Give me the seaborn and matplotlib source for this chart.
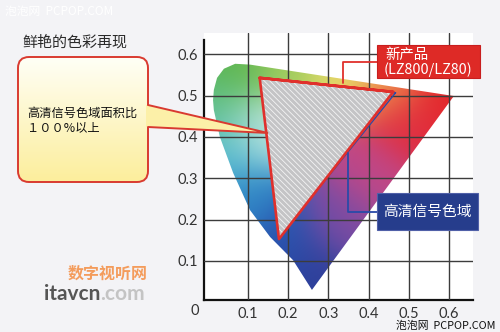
import numpy as np
import matplotlib
matplotlib.use("Agg")
import matplotlib.pyplot as plt
from matplotlib.patches import Polygon, FancyBboxPatch
from matplotlib.colors import to_rgb
import seaborn as sns

# Spectral locus outline in the u'v' plane
locus_u = [0.259, 0.212, 0.155, 0.105, 0.063, 0.030, 0.015, 0.013, 0.015,
           0.023, 0.040, 0.068, 0.105, 0.612]
locus_v = [0.030, 0.102, 0.158, 0.223, 0.313, 0.400, 0.465, 0.489, 0.514,
           0.543, 0.565, 0.577, 0.575, 0.499]

# New panel gamut (LZ800/LZ80) and HD signal gamut
new_u = [0.129, 0.461, 0.177]
new_v = [0.543, 0.509, 0.153]
hd_u = [0.130, 0.467, 0.178]
hd_v = [0.540, 0.507, 0.157]

tick_values = [0.1, 0.2, 0.3, 0.4, 0.5, 0.6]
tick_labels = ["0.1", "0.2", "0.3", "0.4", "0.5", "0.6"]

title = "鲜艳的色彩再现"
callout_lines = ["高清信号色域面积比", "１００%以上"]
new_label = ["新产品", "(LZ800/LZ80)"]
hd_label = "高清信号色域"

# Colour anchors used to shade the locus
hue_stops = [
    (0.07, 0.56, "#5db54a"), (0.20, 0.575, "#a0cc5c"), (0.33, 0.555, "#e8dc6c"),
    (0.45, 0.535, "#ee8c4c"), (0.60, 0.50, "#e4262a"), (0.50, 0.43, "#e02c40"),
    (0.41, 0.31, "#c04888"), (0.33, 0.20, "#7a4ca4"), (0.26, 0.06, "#2e3f9a"),
    (0.19, 0.15, "#2852ae"), (0.10, 0.25, "#2f84c6"), (0.05, 0.36, "#4cb8d0"),
    (0.12, 0.42, "#cdece6"), (0.03, 0.47, "#5cbf8a"),
]

sns.set_theme(style="white")
plt.rcParams["font.family"] = ["Noto Sans CJK SC", "DejaVu Sans"]
plt.rcParams["hatch.linewidth"] = 0.6

W, H = 500, 332
BG = "#f3f3f6"
fig = plt.figure(figsize=(W / 100, H / 100), dpi=100, facecolor=BG)

# main chromaticity axes
L, R, B, T = 204, 473, 300, 33
ax = fig.add_axes([L / W, 1 - B / H, (R - L) / W, (B - T) / H])
xmin = -0.0095
xmax = xmin + (R - L) / 402.0
ymin = 0.0056
ymax = ymin + (B - T) / 413.4
ax.set_facecolor("white")

# shaded locus
nu, nv = 400, 400
U, V = np.meshgrid(np.linspace(xmin, xmax, nu), np.linspace(ymin, ymax, nv))
acc = np.zeros((nv, nu, 3))
wsum = np.zeros((nv, nu))
sig = 0.06
for su, sv, c in hue_stops:
    w = np.exp(-((U - su) ** 2 + (V - sv) ** 2) / (2 * sig ** 2)) + 1e-12
    acc += w[..., None] * np.array(to_rgb(c))
    wsum += w
rgb = acc / wsum[..., None]
im = ax.imshow(rgb, extent=[xmin, xmax, ymin, ymax], origin="lower",
               aspect="auto", zorder=1, interpolation="bilinear")
locus_patch = Polygon(np.column_stack([locus_u, locus_v]), closed=True,
                      transform=ax.transData, facecolor="none", edgecolor="none")
ax.add_patch(locus_patch)
im.set_clip_path(locus_patch)

# HD signal gamut outline, then new gamut fill and outline
sns.lineplot(x=hd_u + hd_u[:2], y=hd_v + hd_v[:2], sort=False, estimator=None,
             color="#2a4aa8", linewidth=1.0, ax=ax, zorder=3)
ax.fill(new_u, new_v, facecolor="#c4c4c6", edgecolor="#f4f4f4",
        hatch="\\\\\\\\\\\\", linewidth=0, zorder=3.2)
sns.lineplot(x=new_u + new_u[:2], y=new_v + new_v[:2], sort=False, estimator=None,
             color="#e0302c", linewidth=1.9, ax=ax, zorder=3.5)

ax.set_xlim(xmin, xmax)
ax.set_ylim(ymin, ymax)
ax.set_xticks(tick_values)
ax.set_xticklabels(tick_labels)
ax.set_yticks(tick_values)
ax.set_yticklabels(tick_labels)
ax.set_xlabel("")
ax.set_ylabel("")
ax.set_axisbelow(False)
ax.grid(True, color="#3c3c3c", linewidth=1.0)
for s in ["top", "right"]:
    ax.spines[s].set_visible(False)
for s in ["left", "bottom"]:
    ax.spines[s].set_visible(True)
    ax.spines[s].set_color("#111111")
    ax.spines[s].set_linewidth(1.6)
ax.spines["left"].set_bounds(ymin, 0.634)
ax.tick_params(axis="both", length=0, colors="#333333", labelsize=10.5)
ax.tick_params(axis="x", pad=5)
ax.tick_params(axis="y", pad=4)
for lab in ax.get_xticklabels() + ax.get_yticklabels():
    lab.set_fontfamily(["Lato", "DejaVu Sans"])

# overlay in pixel coordinates for labels and callouts
ov = fig.add_axes([0, 0, 1, 1])
ov.set_xlim(0, W)
ov.set_ylim(H, 0)
ov.axis("off")
ov.patch.set_alpha(0)
ov.set_zorder(5)

ov.text(195, 311, "0", ha="center", va="center", fontsize=10.5,
        color="#333333", family=["Lato", "DejaVu Sans"])

ov.text(22, 42, title, ha="left", va="center", fontsize=10.8, color="#2a2a2a",
        fontweight="medium")

# yellow callout box
bx, by, bw, bh = 18, 57, 130, 125
box = FancyBboxPatch((bx, by), bw, bh, boxstyle="round,pad=0,rounding_size=11",
                     facecolor="none", edgecolor="#d93a30", linewidth=1.4, zorder=3)
ov.add_patch(box)
grad = np.linspace(0, 1, 100)[:, None, None]
top_c = np.array(to_rgb("#fffff6"))
bot_c = np.array(to_rgb("#fcee9c"))
gimg = (1 - grad) * top_c + grad * bot_c
gi = ov.imshow(gimg, extent=(bx, bx + bw, by + bh, by), aspect="auto", zorder=2)
gi.set_clip_path(box)
ov.fill([146, 268, 146], [105, 133, 127], facecolor="#fcf0a8",
        edgecolor="none", zorder=4)
ov.plot([148, 268, 148], [105, 133, 127], color="#d93a30", linewidth=1.4,
        zorder=4.5, solid_joinstyle="miter")
ov.set_xlim(0, W)
ov.set_ylim(H, 0)

ov.text(27, 113, callout_lines[0], ha="left", va="center", fontsize=8.8,
        color="#111111", fontweight="medium")
ov.text(27, 128, callout_lines[1], ha="left", va="center", fontsize=8.8,
        color="#111111", fontweight="medium")

# red label for the new gamut
ov.plot([377, 343, 343], [62, 62, 83], color="#e0302c", linewidth=1.3, zorder=4)
ov.add_patch(FancyBboxPatch((377, 45), 103, 33, boxstyle="square,pad=0",
                            facecolor="#de2a26", edgecolor="#c81e1e",
                            linewidth=0.8, zorder=5))
ov.text(385, 55, new_label[0], ha="left", va="center", fontsize=10.4,
        color="white", zorder=6)
ov.text(384, 70, new_label[1], ha="left", va="center", fontsize=10.4,
        color="white", zorder=6)

# blue label for the HD signal gamut
ov.plot([348, 348, 377], [153, 212, 212], color="#2a4aa8", linewidth=1.3, zorder=4)
ov.add_patch(FancyBboxPatch((377, 193), 101, 37, boxstyle="square,pad=0",
                            facecolor="#263d8c", edgecolor="#5060a8",
                            linewidth=0.8, zorder=5))
ov.text(427.5, 211.5, hd_label, ha="center", va="center", fontsize=10.6,
        color="white", zorder=6)

# site marks
ov.text(5, 11, "泡泡网  PCPOP.COM", ha="left", va="center", fontsize=8.5,
        color="white")
ov.text(496, 326, "泡泡网  PCPOP.COM", ha="right", va="center", fontsize=7.8,
        color="#111111")
ov.text(148, 274, "数字视听网", ha="right", va="center", fontsize=11.5,
        color="#f39c5c", fontweight="bold", style="italic")
ov.text(100, 294, "itavcn", ha="right", va="center", fontsize=15,
        color="#555555", fontweight="bold", family=["Lato", "DejaVu Sans"])
ov.text(100, 294, ".com", ha="left", va="center", fontsize=15,
        color="#c4c4c4", fontweight="bold", family=["Lato", "DejaVu Sans"])

fig.savefig("out.png", dpi=100, facecolor=BG)
